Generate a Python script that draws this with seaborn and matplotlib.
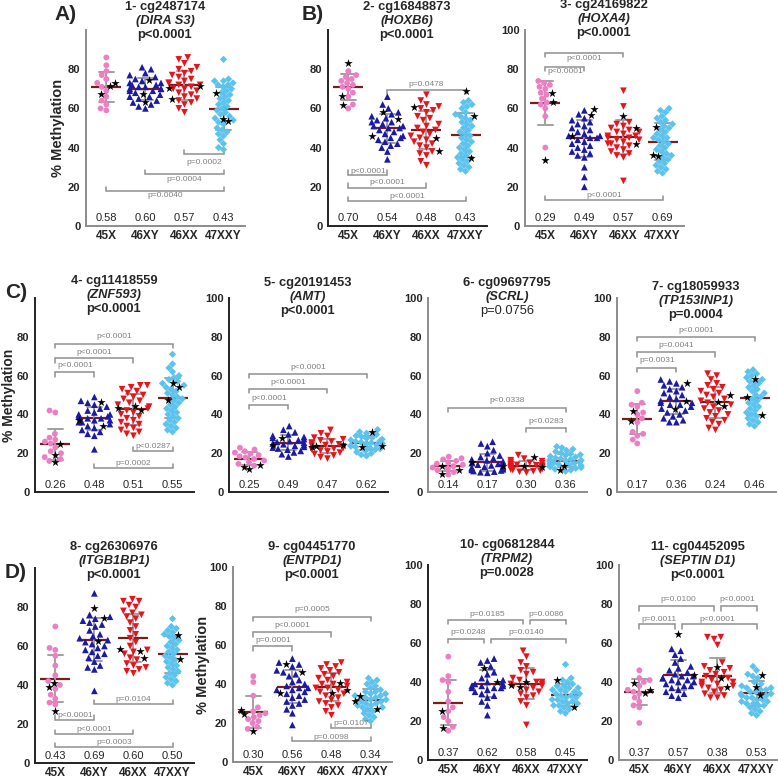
import numpy as np
import pandas as pd
import matplotlib
matplotlib.use("Agg")
import matplotlib.pyplot as plt
from matplotlib.colors import to_rgba
import seaborn as sns

sns.set_style("white")
plt.rcParams['font.family'] = ['Liberation Sans', 'DejaVu Sans']

# --- data ---
GROUPS = ['45X', '46XY', '46XX', '47XXY']
COLORS = ['#ec7fc4', '#1a1aa6', '#e8141c', '#5cc3ee']
MARKERS = ['o', '^', 'v', 'D']
SIZES = [4.2, 4.8, 4.8, 3.7]

probes = ['1- cg2487174', '2- cg16848873', '3- cg24169822', '4- cg11418559',
          '5- cg20191453', '6- cg09697795', '7- cg18059933', '8- cg26306976',
          '9- cg04451770', '10- cg06812844', '11- cg04452095']
genes = ['DIRA S3', 'HOXB6', 'HOXA4', 'ZNF593', 'AMT', 'SCRL', 'TP153INP1',
         'ITGB1BP1', 'ENTPD1', 'TRPM2', 'SEPTIN D1']
anova_p = ['p<0.0001', 'p<0.0001', 'p<0.0001', 'p<0.0001', 'p<0.0001', 'p=0.0756',
           'p=0.0004', 'p<0.0001', 'p<0.0001', 'p=0.0028', 'p<0.0001']

p1_vals = [[86, 82, 79, 77, 75, 73, 71, 69, 66, 64, 62, 60, 59],
           [81, 80, 78, 77, 76, 75, 74, 73, 73, 72, 72, 71, 71, 70, 70, 70, 69, 69, 68, 67, 66, 66, 65, 64, 63, 62, 61, 60],
           [86, 85, 83, 81, 80, 79, 78, 77, 76, 75, 74, 73, 73, 72, 72, 71, 70, 70, 69, 68, 67, 66, 65, 64, 63, 62, 60, 58],
           [85, 75, 74, 74, 73, 72, 72, 71, 70, 69, 68, 67, 66, 65, 64, 63, 62, 61, 60, 59, 58, 57, 56, 55, 54, 53, 52, 50, 49, 48, 47, 46, 44, 42, 40, 39]]
p1_stars = [[72.8, 71.4, 67.3], [74.5, 67.5, 63.5], [70.4, 71.6, 64.7], [68.1, 54.7, 53.5]]
p1_r = [0.58, 0.60, 0.57, 0.43]

p2_vals = [[79, 77, 76, 75, 74, 73, 72, 71, 70, 68, 66, 62, 60],
           [66, 62, 60, 58, 57, 56, 55, 54, 53, 53, 52, 51, 51, 50, 50, 49, 48, 47, 46, 45, 45, 44, 43, 42, 41, 40, 38, 34],
           [67, 64, 62, 61, 60, 59, 58, 56, 55, 54, 52, 51, 50, 49, 48, 47, 46, 45, 44, 43, 42, 41, 40, 38, 37, 36, 33, 31],
           [64, 63, 62, 61, 60, 58, 57, 56, 55, 54, 53, 52, 51, 50, 49, 48, 47, 46, 45, 44, 43, 42, 41, 40, 39, 38, 37, 36, 35, 34, 33, 32, 31, 30, 29, 28]]
p2_stars = [[83.3, 66.3, 61.7], [58, 54.5, 45.7], [60.9, 44.7, 38.4], [69.0, 56.1, 34.9]]
p2_r = [0.70, 0.54, 0.48, 0.43]

p3_vals = [[74, 73, 72, 71, 70, 68, 67, 65, 63, 62, 60, 56, 40],
           [59, 57, 55, 54, 53, 52, 51, 50, 49, 48, 47, 46, 46, 45, 45, 44, 43, 42, 41, 40, 39, 38, 37, 36, 35, 30, 25, 20],
           [69, 61, 53, 52, 51, 50, 49, 48, 48, 47, 46, 46, 45, 45, 44, 44, 43, 42, 42, 41, 40, 39, 38, 37, 36, 35, 23],
           [60, 59, 58, 56, 55, 54, 53, 52, 51, 50, 49, 48, 47, 46, 45, 45, 44, 43, 42, 41, 40, 39, 38, 37, 36, 35, 34, 33, 32, 31, 30, 29, 28, 27]]
p3_stars = [[68, 63.4, 33.7], [59.6, 56.5, 45.9], [56.1, 50, 41.8], [50.7, 36.4, 35.6]]
p3_r = [0.29, 0.49, 0.57, 0.69]

p4_vals = [[42, 41, 30, 28, 27, 26, 25, 23, 21, 20, 18, 17, 16],
           [49, 47, 46, 45, 44, 43, 42, 41, 40, 40, 39, 39, 38, 38, 37, 37, 36, 36, 35, 34, 33, 32, 31, 30, 29, 22],
           [55, 55, 54, 53, 52, 51, 50, 49, 48, 47, 46, 45, 44, 43, 42, 41, 40, 39, 38, 37, 36, 35, 34, 33, 32, 31, 30, 29],
           [71, 66, 64, 62, 60, 59, 58, 57, 56, 55, 54, 53, 52, 51, 50, 49, 48, 47, 46, 45, 44, 43, 42, 41, 40, 39, 38, 37, 36, 35, 34, 33, 32, 31]]
p4_stars = [[25, 19, 15.5], [46.5, 37.2, 34.1], [44.3, 43.1, 42.3], [56, 54.3, 47.4]]
p4_r = [0.26, 0.48, 0.51, 0.55]

p5_vals = [[22.8, 21.9, 21.0, 20.3, 19.7, 19.0, 18.4, 17.8, 17.0, 16.2, 15.3, 14.5, 13.6],
           [34.0, 32.1, 30.8, 29.7, 29.0, 28.4, 27.9, 27.3, 26.8, 26.2, 25.8, 25.4, 25.0, 24.6, 24.2, 23.8, 23.3, 22.9, 22.4, 21.8, 21.2, 20.4, 19.5, 18.3],
           [32.0, 30.2, 28.9, 28.0, 27.2, 26.6, 26.0, 25.5, 25.0, 24.6, 24.2, 23.9, 23.5, 23.1, 22.7, 22.3, 21.9, 21.4, 20.9, 20.3, 19.6, 18.8, 17.9, 17.2],
           [32.2, 31.0, 30.3, 29.6, 29.0, 28.5, 28.0, 27.6, 27.2, 26.8, 26.4, 26.0, 25.7, 25.4, 25.0, 24.7, 24.3, 24.0, 23.6, 23.2, 22.8, 22.3, 21.8, 21.2, 20.6, 19.9, 19.2, 18.6]]
p5_stars = [[13.9, 11.7, 13.0], [28.0, 24.0], [24.2, 23.8, 23.4], [30.8, 23.7, 23.0]]
p5_r = [0.25, 0.49, 0.47, 0.62]

p6_vals = [[18.2, 17.4, 16.8, 16.0, 15.2, 14.6, 14.0, 13.3, 12.6, 12.0, 11.2, 10.3, 9.0],
           [25.9, 25.0, 23.6, 21.6, 20.0, 18.8, 18.0, 17.4, 16.8, 16.3, 15.8, 15.3, 14.9, 14.5, 14.1, 13.7, 13.3, 13.0, 12.6, 12.3, 12.0, 11.7, 11.4, 11.1, 10.8, 10.5, 10.2, 9.9],
           [19.0, 17.2, 16.4, 15.9, 15.5, 15.1, 14.8, 14.5, 14.2, 14.0, 13.8, 13.6, 13.4, 13.2, 13.0, 12.8, 12.6, 12.4, 12.2, 11.9, 11.6, 11.3, 11.0, 10.7, 10.4, 10.0],
           [23.4, 22.8, 22.1, 21.4, 20.8, 20.2, 19.7, 19.2, 18.8, 18.4, 18.0, 17.6, 17.2, 16.9, 16.6, 16.3, 16.0, 15.7, 15.4, 15.1, 14.8, 14.5, 14.2, 13.9, 13.6, 13.3, 13.0, 12.6, 12.2, 11.8, 11.3, 10.7]]
p6_stars = [[13.2, 11.5, 9.3], [15.7, 13.2], [17.9, 13.2, 12.8], [13.2, 11.2]]
p6_r = [0.14, 0.17, 0.30, 0.36]

p7_vals = [[52, 46, 45, 44, 41, 40, 38, 36, 31, 30, 29, 27, 25],
           [58, 57, 56, 55, 54, 53, 52, 51, 50, 49, 48, 47, 46, 46, 45, 45, 44, 43, 42, 41, 40, 39, 38, 37, 36, 36],
           [61, 60, 58, 56, 55, 54, 53, 52, 51, 50, 49, 48, 47, 46, 45, 44, 43, 42, 41, 40, 39, 38, 37, 36, 35, 33, 32],
           [63, 62, 61, 60, 59, 58, 57, 56, 55, 54, 53, 52, 51, 50, 49, 48, 47, 46, 45, 44, 43, 42, 41, 40, 39, 38, 37, 36, 35, 34]]
p7_stars = [[41.9, 36.7], [56.3, 46.9, 42.6], [50, 46.5, 44.3], [58, 49.1, 39.6]]
p7_r = [0.17, 0.36, 0.24, 0.46]

p8_vals = [[70, 59, 58, 55, 50, 45, 42, 40, 38, 35, 33, 31, 30],
           [87, 76, 75, 74, 73, 72, 71, 70, 68, 66, 65, 64, 63, 62, 61, 60, 59, 58, 57, 56, 55, 54, 52, 50, 49, 48, 37],
           [84, 83, 83, 81, 80, 78, 77, 76, 75, 74, 72, 70, 68, 66, 64, 62, 60, 58, 57, 56, 54, 53, 51, 50, 49, 48, 47, 46],
           [74, 70, 69, 68, 67, 66, 65, 64, 63, 62, 61, 60, 59, 58, 57, 56, 55, 54, 53, 52, 51, 50, 49, 48, 47, 46, 45, 44, 43, 42, 41, 40]]
p8_stars = [[41, 38.8, 26.7], [79.3, 74.2, 62.7], [58.5, 57.6, 53.7], [65.7, 53.3]]
p8_r = [0.43, 0.69, 0.60, 0.50]

p9_vals = [[44, 41, 34, 28, 26, 25, 24, 23, 22, 21, 20, 18, 17],
           [53, 51, 50, 49, 47, 46, 45, 44, 42, 41, 40, 39, 38, 38, 37, 37, 36, 35, 34, 33, 32, 31, 30, 29, 27, 25, 19],
           [51, 50, 49, 48, 47, 46, 45, 44, 43, 42, 41, 40, 40, 39, 38, 38, 37, 36, 35, 34, 33, 32, 31, 30, 29, 28, 26, 24],
           [43, 42, 41, 40, 39, 38, 37, 36, 36, 35, 35, 34, 34, 33, 33, 32, 32, 31, 31, 30, 30, 29, 29, 28, 28, 27, 26, 25, 24, 23, 22, 21]]
p9_stars = [[26.8, 24.4, 15.7], [50.1, 46.2, 35.4], [40.5, 37.1, 35.4], [33.7, 31.3, 27.4]]
p9_r = [0.30, 0.56, 0.48, 0.34]

p10_vals = [[53, 43, 41, 40, 35, 30, 27, 25, 22, 20, 17, 15],
            [52, 51, 50, 48, 45, 44, 42, 41, 40, 39, 39, 38, 38, 38, 37, 37, 37, 36, 35, 34, 33, 32, 30, 28, 23],
            [56, 53, 50, 48, 46, 45, 44, 42, 41, 40, 40, 39, 39, 38, 38, 37, 36, 35, 34, 33, 32, 30, 28, 18],
            [49, 42, 41, 40, 39, 38, 38, 37, 37, 36, 36, 35, 35, 34, 34, 33, 33, 32, 32, 31, 31, 30, 30, 29, 29, 28, 28, 27, 26, 25, 24]]
p10_stars = [[25.3, 16.6], [47, 40.2], [39.8, 38.5, 37.6], [41, 27]]
p10_r = [0.37, 0.62, 0.58, 0.45]

p11_vals = [[46, 42, 41, 40, 38, 36, 35, 34, 32, 30, 28, 27, 19],
            [57, 56, 54, 52, 50, 48, 47, 46, 45, 44, 43, 43, 42, 42, 41, 41, 40, 40, 39, 38, 38, 37, 36, 35, 34, 33, 32],
            [63, 63, 62, 59, 50, 48, 47, 46, 45, 44, 43, 42, 41, 40, 40, 39, 39, 38, 38, 37, 36, 35, 34, 33, 32, 32],
            [48, 46, 44, 43, 42, 40, 39, 38, 37, 37, 36, 36, 35, 35, 34, 34, 33, 33, 32, 32, 31, 31, 30, 30, 29, 29, 28, 28, 27, 26, 25, 24, 23]]
p11_stars = [[39.3, 35.9, 34.2], [64.4, 43.6], [47.5, 41.9, 37.3], [43.6, 37.6, 33.3]]
p11_r = [0.37, 0.57, 0.38, 0.53]

# pairwise comparisons: (group a, group b, bracket level, tick length, label level, label)
p1_cmp = [(2, 3, 36.7, 2, 32.6, 'p=0.0002'), (1, 3, 26.5, 2, 23.5, 'p=0.0004'), (0, 3, 18, 2, 15.6, 'p=0.0040')]
p2_cmp = [(1, 3, 69.3, -2, 72.1, 'p=0.0478'), (0, 1, 26, 2.4, 28.0, 'p<0.0001'),
          (0, 2, 19.6, 2.2, 22.0, 'p<0.0001'), (0, 3, 12.8, 2.2, 15.0, 'p<0.0001')]
p3_cmp = [(0, 2, 88.1, -2, 85.6, 'p<0.0001'), (0, 1, 81.3, -2, 78.7, 'p<0.0001'), (0, 3, 13.3, 2, 15.6, 'p<0.0001')]
p4_cmp = [(0, 3, 76.3, -2.2, 80, 'p<0.0001'), (0, 2, 68.9, -2.2, 72, 'p<0.0001'), (0, 1, 61.7, -2.3, 65, 'p<0.0001'),
          (2, 3, 21.1, 2.3, 23.3, 'p<0.0287'), (1, 3, 12.5, 2, 14.8, 'p=0.0002')]
p5_cmp = [(0, 3, 60.6, -2, 64.3, 'p<0.0001'), (0, 2, 53.1, -2.2, 56.4, 'p<0.0001'), (0, 1, 44.8, -2.2, 48.3, 'p<0.0001')]
p6_cmp = [(0, 3, 43.5, -2.1, 47.4, 'p<0.0338'), (2, 3, 33.2, -2.1, 36.2, 'p<0.0283')]
p7_cmp = [(0, 3, 80.1, -2.1, 83.5, 'p<0.0001'), (0, 2, 72, -2.3, 75.3, 'p=0.0041'), (0, 1, 64.1, -2.1, 67.7, 'p=0.0031')]
p8_cmp = [(1, 3, 30.3, 2.2, 32.6, 'p=0.0104'), (0, 1, 22.1, 2.5, 24.3, 'p<0.0001'),
          (0, 2, 14.9, 2.2, 17.2, 'p<0.0001'), (0, 3, 8, 2.3, 10.6, 'p=0.0003')]
p9_cmp = [(0, 3, 74.4, -2.2, 78.1, 'p=0.0005'), (0, 2, 66.5, -2.2, 70.1, 'p<0.0001'), (0, 1, 59.3, -2.2, 62.4, 'p=0.0001'),
          (2, 3, 17.4, 2.2, 19.8, 'p=0.0107'), (1, 3, 10.6, 2.2, 12.7, 'p=0.0098')]
p10_cmp = [(0, 2, 71.8, -2.2, 74.7, 'p=0.0185'), (2, 3, 71.8, -2.2, 74.7, 'p=0.0086'),
           (0, 1, 61.9, -2.1, 65.3, 'p=0.0248'), (1, 3, 61.9, -2.1, 65.3, 'p=0.0140')]
p11_cmp = [(0, 2, 79, -2.4, 82.1, 'p=0.0100'), (2, 3, 79, -2.4, 82.1, 'p<0.0001'),
           (0, 1, 69.6, -2.4, 72.3, 'p=0.0011'), (1, 3, 69.6, -2.4, 72.3, 'p<0.0001')]

all_vals = [p1_vals, p2_vals, p3_vals, p4_vals, p5_vals, p6_vals, p7_vals, p8_vals, p9_vals, p10_vals, p11_vals]
all_stars = [p1_stars, p2_stars, p3_stars, p4_stars, p5_stars, p6_stars, p7_stars, p8_stars, p9_stars, p10_stars, p11_stars]
all_r = [p1_r, p2_r, p3_r, p4_r, p5_r, p6_r, p7_r, p8_r, p9_r, p10_r, p11_r]
all_cmp = [p1_cmp, p2_cmp, p3_cmp, p4_cmp, p5_cmp, p6_cmp, p7_cmp, p8_cmp, p9_cmp, p10_cmp, p11_cmp]

# --- layout (pixels): left, y of 0, y of 100, first title line, x labels, 100 tick, ylabel x, spine colour
W, H = 778, 779
XL = (-0.52, 3.55)
AXW = 159
layout = [
    (86, 226, 30, 7, True, False, 65, '#8c8c8c'),
    (328, 226, 30, 7, True, False, None, '#222222'),
    (525, 226, 30, 5, True, True, None, '#8c8c8c'),
    (35, 492, 298, 281, False, False, 16, '#222222'),
    (229, 492, 298, 283, False, True, None, '#222222'),
    (428, 492, 298, 283, False, True, None, '#8c8c8c'),
    (617, 492, 298, 287, False, True, None, '#8c8c8c'),
    (35, 763, 568, 547, True, False, None, '#222222'),
    (233, 762, 567, 547, True, True, 210, '#8c8c8c'),
    (428, 760, 565, 545, True, True, None, '#222222'),
    (619, 760, 565, 547, True, True, None, '#8c8c8c'),
]

fig = plt.figure(figsize=(W / 100, H / 100), dpi=100)
star_jobs = []

for k in range(11):
    left, y0, y100, ty, xlab, top100, ylx, sc = layout[k]
    ax = fig.add_axes([left / W, 1 - y0 / H, AXW / W, (y0 - y100) / H])
    vals, stars = all_vals[k], all_stars[k]

    for g in range(4):
        pts = list(vals[g]) + list(stars[g])
        d = pd.DataFrame({'group': GROUPS[g], 'value': pts})
        before = list(ax.collections)
        sns.swarmplot(data=d, x='group', y='value', order=GROUPS, color=COLORS[g],
                      marker=MARKERS[g], size=SIZES[g], linewidth=0, ax=ax, legend=False,
                      warn_thresh=1)
        new = [c for c in ax.collections if all(c is not b for b in before)
               and len(c.get_offsets()) == len(pts)]
        star_jobs.append((ax, new[0], len(vals[g]), COLORS[g]))

    rows = [(GROUPS[g], v) for g in range(4) for v in list(vals[g]) + list(stars[g])]
    dall = pd.DataFrame(rows, columns=['group', 'value'])
    sns.pointplot(data=dall, x='group', y='value', order=GROUPS, errorbar='sd', capsize=0.38,
                  linestyle='none', marker='_', markersize=22, markeredgewidth=1.6,
                  color='#7a1c1c', err_kws={'color': '#a0a0a0', 'linewidth': 1.4}, ax=ax)

    # comparison brackets
    cmp = all_cmp[k]
    for a, b, yl, tk, yt, lab in cmp:
        xa, xb = a, b
        for a2, b2, yl2, *_ in cmp:
            if yl2 == yl and (a2, b2) != (a, b):
                if b2 == a:
                    xa += 0.08
                if a2 == b:
                    xb -= 0.08
        ax.plot([xa, xa, xb, xb], [yl + tk, yl, yl, yl + tk], color='#8f8f8f', lw=1.1,
                solid_joinstyle='miter', zorder=1)
        ax.text((a + b) / 2, yt, lab, ha='center', va='center', fontsize=6, color='#808080')

    for g in range(4):
        ax.text(g, 4 if k < 3 else 3.5, f'{all_r[k][g]:.2f}', ha='center', va='center', fontsize=8)

    ax.set_xlim(*XL)
    ax.set_ylim(0, 100)
    ax.set_yticks([0, 20, 40, 60, 80, 100] if top100 else [0, 20, 40, 60, 80])
    ax.set_xticks(range(4))
    ax.set_xticklabels(GROUPS if xlab else [], fontsize=8.5, fontweight='bold')
    for t in ax.get_yticklabels():
        t.set_fontweight('bold')
        t.set_fontsize(8)
    ax.tick_params(axis='y', length=3, width=1, pad=1, color=sc)
    ax.tick_params(axis='x', length=0, pad=3)
    ax.set_xlabel('')
    ax.set_ylabel('')
    for s in ['top', 'right']:
        ax.spines[s].set_visible(False)
    for s in ['left', 'bottom']:
        ax.spines[s].set_color(sc)
        ax.spines[s].set_linewidth(1.4)
    ax.patch.set_alpha(0)
    if ylx is not None:
        ax.set_ylabel('% Methylation', fontsize=10 if k == 3 else 10.5, fontweight='bold')
        ax.yaxis.set_label_coords((ylx - left) / AXW, 0.5)

    # titles
    cx = (left + AXW * (0.52 + 1.5) / (XL[1] - XL[0])) / W
    fig.text(cx, 1 - ty / H, probes[k], ha='center', va='center', fontsize=9.3, fontweight='bold')
    fig.text(cx, 1 - (ty + 14) / H, f'({genes[k]})', ha='center', va='center', fontsize=9.3,
             fontweight='bold', fontstyle='italic')
    fig.text(cx, 1 - (ty + 28) / H, anova_p[k], ha='center', va='center', fontsize=9.3,
             fontweight='normal' if k == 5 else 'bold')

for lab, x, y in [('A)', 66, 15), ('B)', 313, 15), ('C)', 16, 292), ('D)', 16, 572)]:
    fig.text(x / W, 1 - y / H, lab, ha='center', va='center', fontsize=15, fontweight='bold')

# overlay black stars on the swarm positions of the flagged samples
fig.canvas.draw()
for ax, coll, n, col in star_jobs:
    xy = np.asarray(coll.get_offsets())
    fc = np.tile(to_rgba(col), (len(xy), 1))
    fc[n:, 3] = 0
    coll.set_facecolors(fc)
    ax.scatter(xy[n:, 0], xy[n:, 1], marker='*', s=40, color='black', linewidths=0, zorder=4)

fig.savefig('out.png', dpi=100)
